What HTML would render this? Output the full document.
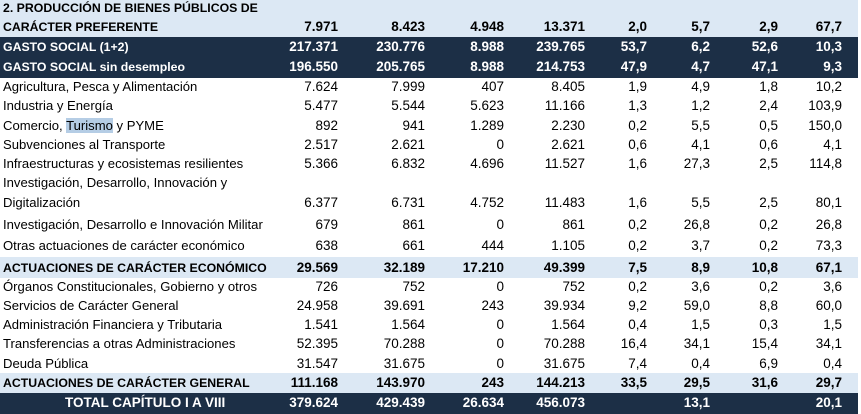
<!DOCTYPE html>
<html><head><meta charset="utf-8"><style>
body{margin:0;width:861px;height:414px;background:#fff;overflow:hidden;font-family:"Liberation Sans",sans-serif;font-size:13.5px;color:#000}
.r{position:absolute;left:0;width:858px;height:20px;line-height:20px}
.r span{position:absolute;white-space:nowrap}
.l{left:3px;font-size:13.1px}
.b .l{font-size:12.3px;letter-spacing:0}
.b{font-weight:bold}
</style></head><body>
<div style="position:absolute;left:0;top:0;width:858px;height:37px;background:#dce8f4"></div>
<div style="position:absolute;left:0;top:37px;width:858px;height:41px;background:#1c2f46"></div>
<div style="position:absolute;left:0;top:257px;width:858px;height:21px;background:#dce8f4"></div>
<div style="position:absolute;left:0;top:373px;width:858px;height:20px;background:#dce8f4"></div>
<div style="position:absolute;left:0;top:393px;width:858px;height:21px;background:#1c2f46"></div>
<div class="r b" style="top:-2px"><span class="l">2. PRODUCCIÓN DE BIENES PÚBLICOS DE</span></div>
<div class="r b" style="top:17px"><span class="l">CARÁCTER PREFERENTE</span><span style="right:520px">7.971</span><span style="right:433px">8.423</span><span style="right:354px">4.948</span><span style="right:273px">13.371</span><span style="right:211px">2,0</span><span style="right:148px">5,7</span><span style="right:80px">2,9</span><span style="right:16px">67,7</span></div>
<div class="r b" style="top:37px;color:#fff"><span class="l">GASTO SOCIAL (1+2)</span><span style="right:520px">217.371</span><span style="right:433px">230.776</span><span style="right:354px">8.988</span><span style="right:273px">239.765</span><span style="right:211px">53,7</span><span style="right:148px">6,2</span><span style="right:80px">52,6</span><span style="right:16px">10,3</span></div>
<div class="r b" style="top:57px;color:#fff"><span class="l">GASTO SOCIAL sin desempleo</span><span style="right:520px">196.550</span><span style="right:433px">205.765</span><span style="right:354px">8.988</span><span style="right:273px">214.753</span><span style="right:211px">47,9</span><span style="right:148px">4,7</span><span style="right:80px">47,1</span><span style="right:16px">9,3</span></div>
<div class="r" style="top:77px"><span class="l">Agricultura, Pesca y Alimentación</span><span style="right:520px">7.624</span><span style="right:433px">7.999</span><span style="right:354px">407</span><span style="right:273px">8.405</span><span style="right:211px">1,9</span><span style="right:148px">4,9</span><span style="right:80px">1,8</span><span style="right:16px">10,2</span></div>
<div class="r" style="top:96px"><span class="l">Industria y Energía</span><span style="right:520px">5.477</span><span style="right:433px">5.544</span><span style="right:354px">5.623</span><span style="right:273px">11.166</span><span style="right:211px">1,3</span><span style="right:148px">1,2</span><span style="right:80px">2,4</span><span style="right:16px">103,9</span></div>
<div class="r" style="top:116px"><span class="l">Comercio, <span style="position:static;background:#b5cde5">Turismo</span> y PYME</span><span style="right:520px">892</span><span style="right:433px">941</span><span style="right:354px">1.289</span><span style="right:273px">2.230</span><span style="right:211px">0,2</span><span style="right:148px">5,5</span><span style="right:80px">0,5</span><span style="right:16px">150,0</span></div>
<div class="r" style="top:135px"><span class="l">Subvenciones al Transporte</span><span style="right:520px">2.517</span><span style="right:433px">2.621</span><span style="right:354px">0</span><span style="right:273px">2.621</span><span style="right:211px">0,6</span><span style="right:148px">4,1</span><span style="right:80px">0,6</span><span style="right:16px">4,1</span></div>
<div class="r" style="top:154px"><span class="l">Infraestructuras y ecosistemas resilientes</span><span style="right:520px">5.366</span><span style="right:433px">6.832</span><span style="right:354px">4.696</span><span style="right:273px">11.527</span><span style="right:211px">1,6</span><span style="right:148px">27,3</span><span style="right:80px">2,5</span><span style="right:16px">114,8</span></div>
<div class="r" style="top:173px"><span class="l">Investigación, Desarrollo, Innovación y</span></div>
<div class="r" style="top:193px"><span class="l">Digitalización</span><span style="right:520px">6.377</span><span style="right:433px">6.731</span><span style="right:354px">4.752</span><span style="right:273px">11.483</span><span style="right:211px">1,6</span><span style="right:148px">5,5</span><span style="right:80px">2,5</span><span style="right:16px">80,1</span></div>
<div class="r" style="top:215px"><span class="l">Investigación, Desarrollo e Innovación Militar</span><span style="right:520px">679</span><span style="right:433px">861</span><span style="right:354px">0</span><span style="right:273px">861</span><span style="right:211px">0,2</span><span style="right:148px">26,8</span><span style="right:80px">0,2</span><span style="right:16px">26,8</span></div>
<div class="r" style="top:236px"><span class="l">Otras actuaciones de carácter económico</span><span style="right:520px">638</span><span style="right:433px">661</span><span style="right:354px">444</span><span style="right:273px">1.105</span><span style="right:211px">0,2</span><span style="right:148px">3,7</span><span style="right:80px">0,2</span><span style="right:16px">73,3</span></div>
<div class="r b" style="top:258px"><span class="l">ACTUACIONES DE CARÁCTER ECONÓMICO</span><span style="right:520px">29.569</span><span style="right:433px">32.189</span><span style="right:354px">17.210</span><span style="right:273px">49.399</span><span style="right:211px">7,5</span><span style="right:148px">8,9</span><span style="right:80px">10,8</span><span style="right:16px">67,1</span></div>
<div class="r" style="top:277px"><span class="l">Órganos Constitucionales, Gobierno y otros</span><span style="right:520px">726</span><span style="right:433px">752</span><span style="right:354px">0</span><span style="right:273px">752</span><span style="right:211px">0,2</span><span style="right:148px">3,6</span><span style="right:80px">0,2</span><span style="right:16px">3,6</span></div>
<div class="r" style="top:296px"><span class="l">Servicios de Carácter General</span><span style="right:520px">24.958</span><span style="right:433px">39.691</span><span style="right:354px">243</span><span style="right:273px">39.934</span><span style="right:211px">9,2</span><span style="right:148px">59,0</span><span style="right:80px">8,8</span><span style="right:16px">60,0</span></div>
<div class="r" style="top:315px"><span class="l">Administración Financiera y Tributaria</span><span style="right:520px">1.541</span><span style="right:433px">1.564</span><span style="right:354px">0</span><span style="right:273px">1.564</span><span style="right:211px">0,4</span><span style="right:148px">1,5</span><span style="right:80px">0,3</span><span style="right:16px">1,5</span></div>
<div class="r" style="top:334px"><span class="l">Transferencias a otras Administraciones</span><span style="right:520px">52.395</span><span style="right:433px">70.288</span><span style="right:354px">0</span><span style="right:273px">70.288</span><span style="right:211px">16,4</span><span style="right:148px">34,1</span><span style="right:80px">15,4</span><span style="right:16px">34,1</span></div>
<div class="r" style="top:354px"><span class="l">Deuda Pública</span><span style="right:520px">31.547</span><span style="right:433px">31.675</span><span style="right:354px">0</span><span style="right:273px">31.675</span><span style="right:211px">7,4</span><span style="right:148px">0,4</span><span style="right:80px">6,9</span><span style="right:16px">0,4</span></div>
<div class="r b" style="top:373px"><span class="l">ACTUACIONES DE CARÁCTER GENERAL</span><span style="right:520px">111.168</span><span style="right:433px">143.970</span><span style="right:354px">243</span><span style="right:273px">144.213</span><span style="right:211px">33,5</span><span style="right:148px">29,5</span><span style="right:80px">31,6</span><span style="right:16px">29,7</span></div>
<div class="r b" style="top:393px;color:#fff"><span style="left:65px">TOTAL CAPÍTULO I A VIII</span><span style="right:520px">379.624</span><span style="right:433px">429.439</span><span style="right:354px">26.634</span><span style="right:273px">456.073</span><span style="right:148px">13,1</span><span style="right:16px">20,1</span></div>
</body></html>
